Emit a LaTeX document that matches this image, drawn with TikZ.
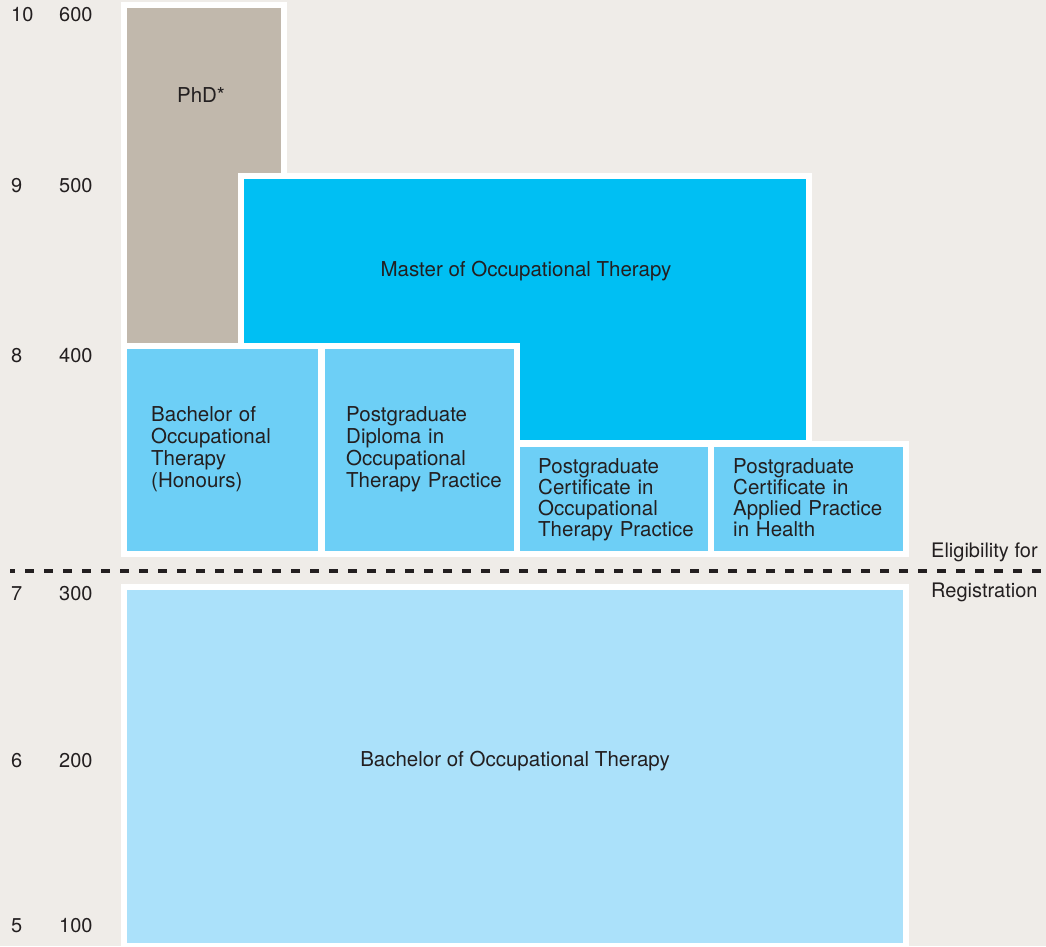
\documentclass[tikz,border=0pt]{standalone}
\usepackage{fontspec}
\setmainfont{TeX Gyre Heros}
\definecolor{bg}{HTML}{EFECE8}
\definecolor{phdc}{HTML}{C1B8AC}
\definecolor{masterc}{HTML}{00BFF3}
\definecolor{midc}{HTML}{6DCFF6}
\definecolor{lightc}{HTML}{ABE1FA}
\definecolor{txt}{HTML}{231F20}
\tikzset{
  blk/.style={draw=white, line width=6pt},
  lbl/.style={inner sep=0pt, text=txt, font=\fontsize{20.5}{22}\selectfont},
  mlbl/.style={lbl, text width=200pt, align=left, anchor=base west},
  mlbls/.style={mlbl, font=\fontsize{20.5}{21}\selectfont},
  axl/.style={inner sep=0pt, text=txt, font=\fontsize{20}{22}\selectfont, anchor=base west},
}
\begin{document}
\begin{tikzpicture}[x=1pt,y=-1pt]
\fill[bg] (0,0) rectangle (1046,946);
\useasboundingbox (0,0) rectangle (1046,946);
% boxes
\draw[blk, fill=phdc] (124,5) rectangle (284,346);
\draw[blk, fill=masterc] (241,176) rectangle (809,443);
\draw[blk, fill=midc] (124,346) rectangle (321,554);
\draw[blk, fill=midc] (322,346) rectangle (517,554);
\draw[blk, fill=midc] (517,444) rectangle (711,554);
\draw[blk, fill=midc] (711,444) rectangle (906,554);
\draw[blk, fill=lightc] (124,587) rectangle (906,946);
% dashed line
\coordinate (dl) at (10,571);
\coordinate (dr) at (1046,571);
\draw[line width=4pt, color=txt, dash pattern=on 9pt off 10pt, dash phase=4pt] (dl) -- (dr);
% box labels
\node[lbl, anchor=base] (phd) at (201,102) {PhD*};
\node[lbl, anchor=base] (mot) at (526,276) {Master of Occupational Therapy};
\node[mlbl] (both) at (151,421) {Bachelor of\\Occupational\\Therapy\\(Honours)};
\node[mlbl] (pgd) at (346,421) {Postgraduate\\Diploma in\\Occupational\\Therapy Practice};
\node[mlbls] (pgco) at (538,473) {Postgraduate\\Certificate in\\Occupational\\Therapy Practice};
\node[mlbls] (pgca) at (733,473) {Postgraduate\\Certificate in\\Applied Practice\\in Health};
\node[lbl, anchor=base] (bot) at (515,766) {Bachelor of Occupational Therapy};
\node[axl] (elig) at (931,557) {Eligibility for};
\node[axl] (reg) at (931,597) {Registration};
% axis labels
\node[axl] (l10) at (11,21) {10};
\node[axl] (c600) at (59,21) {600};
\node[axl] (l9) at (11,192) {9};
\node[axl] (c500) at (59,192) {500};
\node[axl] (l8) at (11,362) {8};
\node[axl] (c400) at (59,362) {400};
\node[axl] (l7) at (11,600) {7};
\node[axl] (c300) at (59,600) {300};
\node[axl] (l6) at (11,767) {6};
\node[axl] (c200) at (59,767) {200};
\node[axl] (l5) at (11,932) {5};
\node[axl] (c100) at (59,932) {100};
\end{tikzpicture}
\end{document}
